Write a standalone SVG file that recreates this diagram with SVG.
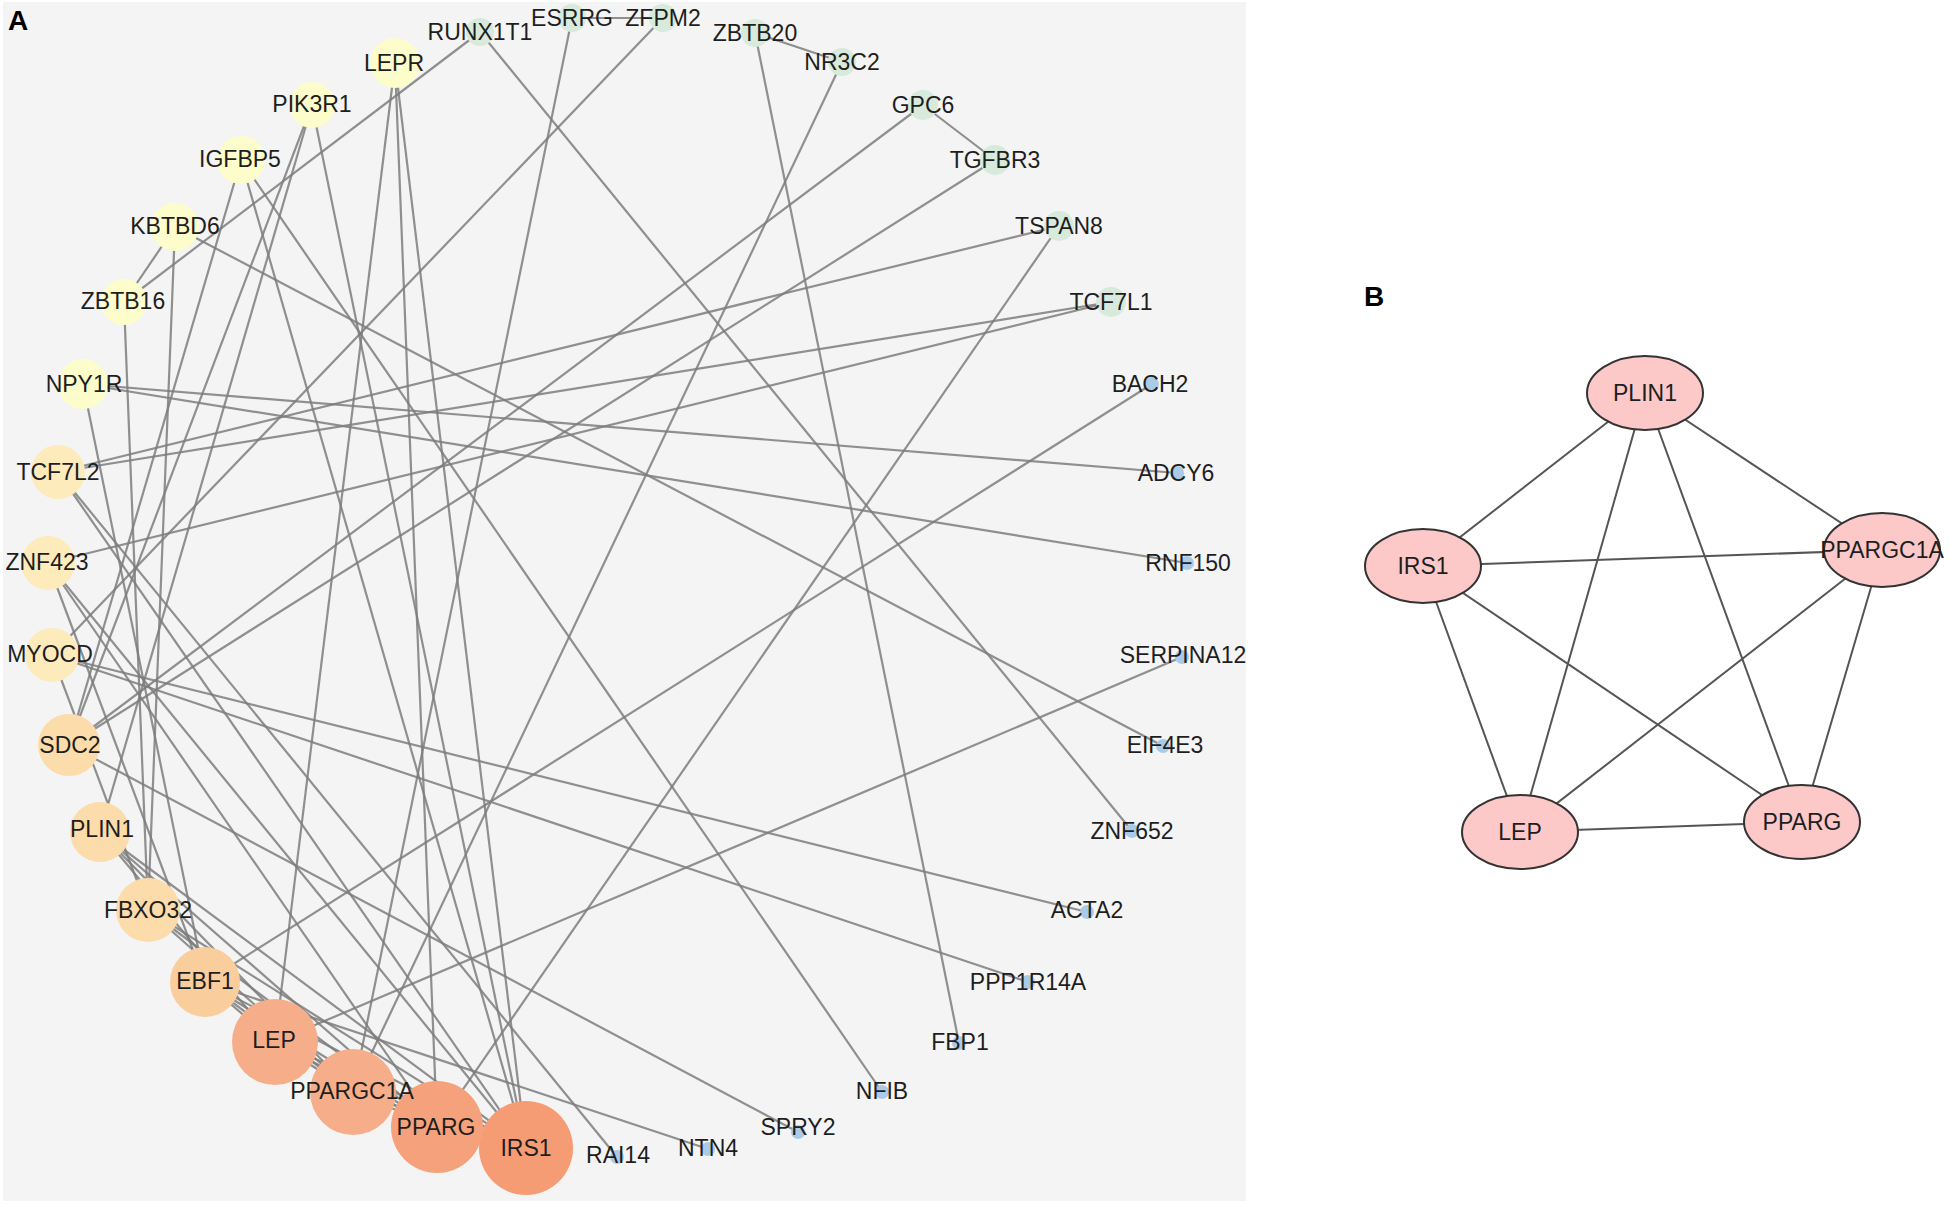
<svg xmlns="http://www.w3.org/2000/svg" width="1950" height="1205" viewBox="0 0 1950 1205">
<style>
text{font-family:"Liberation Sans",Arial,sans-serif;fill:#1e1e1e}
.lbl{font-size:23px;text-anchor:middle}
.panel{font-size:28px;font-weight:bold;fill:#000}
.e line{stroke:#7c7c7c;stroke-width:2.2;stroke-opacity:0.85}
.eb line{stroke:#555;stroke-width:2}
.g{fill:#d7eadb}
.b{fill:#a9cbe8}
.y{fill:#fdfdcb}
.c1{fill:#fdebbb}
.c2{fill:#fcdcaa}
.c3{fill:#facd9d}
.o1{fill:#f6ae8a}
.o2{fill:#f5a17b}
.o3{fill:#f59c74}
.pb{fill:#fcc8c8;stroke:#333;stroke-width:2}
</style>
<rect x="0" y="0" width="1950" height="1205" fill="#ffffff"/>
<rect x="3" y="2" width="1243" height="1199" fill="#f4f4f4"/>
<text class="panel" x="8" y="30">A</text>
<text class="panel" x="1364" y="306">B</text>
<g id="edges-a" class="e">
<line x1="124" y1="302" x2="175" y2="227"/>
<line x1="124" y1="302" x2="480" y2="32"/>
<line x1="124" y1="302" x2="148" y2="910"/>
<line x1="175" y1="227" x2="148" y2="910"/>
<line x1="175" y1="227" x2="1163" y2="746"/>
<line x1="241" y1="160" x2="69" y2="745"/>
<line x1="241" y1="160" x2="882" y2="1092"/>
<line x1="241" y1="160" x2="526" y2="1148"/>
<line x1="312" y1="105" x2="69" y2="745"/>
<line x1="312" y1="105" x2="100" y2="832"/>
<line x1="312" y1="105" x2="526" y2="1148"/>
<line x1="395" y1="63" x2="275" y2="1042"/>
<line x1="395" y1="63" x2="437" y2="1127"/>
<line x1="395" y1="63" x2="526" y2="1148"/>
<line x1="83" y1="384" x2="1177" y2="473"/>
<line x1="83" y1="384" x2="1187" y2="563"/>
<line x1="83" y1="384" x2="205" y2="982"/>
<line x1="480" y1="32" x2="1132" y2="831"/>
<line x1="572" y1="18" x2="663" y2="18"/>
<line x1="572" y1="18" x2="353" y2="1092"/>
<line x1="663" y1="18" x2="52" y2="655"/>
<line x1="755" y1="33" x2="842" y2="62"/>
<line x1="755" y1="33" x2="959" y2="1043"/>
<line x1="842" y1="62" x2="353" y2="1092"/>
<line x1="923" y1="105" x2="995" y2="160"/>
<line x1="923" y1="105" x2="69" y2="745"/>
<line x1="995" y1="160" x2="69" y2="745"/>
<line x1="1059" y1="226" x2="437" y2="1127"/>
<line x1="1059" y1="226" x2="58" y2="472"/>
<line x1="1111" y1="302" x2="58" y2="472"/>
<line x1="1111" y1="302" x2="48" y2="563"/>
<line x1="1152" y1="384" x2="205" y2="982"/>
<line x1="1182" y1="657" x2="275" y2="1042"/>
<line x1="52" y1="655" x2="1087" y2="912"/>
<line x1="52" y1="655" x2="1028" y2="982"/>
<line x1="69" y1="745" x2="798" y2="1132"/>
<line x1="205" y1="982" x2="708" y2="1149"/>
<line x1="58" y1="472" x2="617" y2="1157"/>
<line x1="58" y1="472" x2="526" y2="1148"/>
<line x1="48" y1="563" x2="205" y2="982"/>
<line x1="48" y1="563" x2="437" y2="1127"/>
<line x1="48" y1="563" x2="526" y2="1148"/>
<line x1="52" y1="655" x2="148" y2="910"/>
<line x1="100" y1="832" x2="526" y2="1148"/>
<line x1="100" y1="832" x2="353" y2="1092"/>
<line x1="100" y1="832" x2="275" y2="1042"/>
<line x1="100" y1="832" x2="437" y2="1127"/>
<line x1="526" y1="1148" x2="353" y2="1092"/>
<line x1="526" y1="1148" x2="275" y2="1042"/>
<line x1="526" y1="1148" x2="437" y2="1127"/>
<line x1="353" y1="1092" x2="275" y2="1042"/>
<line x1="353" y1="1092" x2="437" y2="1127"/>
<line x1="275" y1="1042" x2="437" y2="1127"/>
<line x1="205" y1="982" x2="275" y2="1042"/>
<line x1="205" y1="982" x2="353" y2="1092"/>
<line x1="205" y1="982" x2="437" y2="1127"/>
<line x1="205" y1="982" x2="526" y2="1148"/>
<line x1="148" y1="910" x2="353" y2="1092"/>
<line x1="148" y1="910" x2="437" y2="1127"/>
<line x1="148" y1="910" x2="526" y2="1148"/>
</g>
<g id="n-ESRRG"><circle class="g" cx="572" cy="18" r="14"/><text class="lbl" x="572" y="26">ESRRG</text></g>
<g id="n-ZFPM2"><circle class="g" cx="663" cy="18" r="14"/><text class="lbl" x="663" y="26">ZFPM2</text></g>
<g id="n-ZBTB20"><circle class="g" cx="755" cy="33" r="14"/><text class="lbl" x="755" y="41">ZBTB20</text></g>
<g id="n-NR3C2"><circle class="g" cx="842" cy="62" r="14"/><text class="lbl" x="842" y="70">NR3C2</text></g>
<g id="n-GPC6"><circle class="g" cx="923" cy="105" r="15"/><text class="lbl" x="923" y="113">GPC6</text></g>
<g id="n-TGFBR3"><circle class="g" cx="995" cy="160" r="15"/><text class="lbl" x="995" y="168">TGFBR3</text></g>
<g id="n-TSPAN8"><circle class="g" cx="1059" cy="226" r="15"/><text class="lbl" x="1059" y="234">TSPAN8</text></g>
<g id="n-TCF7L1"><circle class="g" cx="1111" cy="302" r="15"/><text class="lbl" x="1111" y="310">TCF7L1</text></g>
<g id="n-BACH2"><circle class="b" cx="1152" cy="384" r="7"/><text class="lbl" x="1150" y="392">BACH2</text></g>
<g id="n-ADCY6"><circle class="b" cx="1177" cy="473" r="7"/><text class="lbl" x="1176" y="481">ADCY6</text></g>
<g id="n-RNF150"><circle class="b" cx="1187" cy="563" r="7"/><text class="lbl" x="1188" y="571">RNF150</text></g>
<g id="n-SERPINA12"><circle class="b" cx="1182" cy="657" r="7"/><text class="lbl" x="1183" y="663">SERPINA12</text></g>
<g id="n-EIF4E3"><circle class="b" cx="1163" cy="746" r="7"/><text class="lbl" x="1165" y="753">EIF4E3</text></g>
<g id="n-ZNF652"><circle class="b" cx="1132" cy="831" r="7"/><text class="lbl" x="1132" y="839">ZNF652</text></g>
<g id="n-ACTA2"><circle class="b" cx="1087" cy="912" r="7"/><text class="lbl" x="1087" y="918">ACTA2</text></g>
<g id="n-PPP1R14A"><circle class="b" cx="1028" cy="982" r="7"/><text class="lbl" x="1028" y="990">PPP1R14A</text></g>
<g id="n-FBP1"><circle class="b" cx="959" cy="1043" r="7"/><text class="lbl" x="960" y="1050">FBP1</text></g>
<g id="n-NFIB"><circle class="b" cx="882" cy="1092" r="7"/><text class="lbl" x="882" y="1099">NFIB</text></g>
<g id="n-SPRY2"><circle class="b" cx="798" cy="1132" r="7"/><text class="lbl" x="798" y="1135">SPRY2</text></g>
<g id="n-NTN4"><circle class="b" cx="708" cy="1149" r="7"/><text class="lbl" x="708" y="1156">NTN4</text></g>
<g id="n-RAI14"><circle class="b" cx="617" cy="1157" r="7"/><text class="lbl" x="618" y="1163">RAI14</text></g>
<g id="n-IRS1"><circle class="o3" cx="526" cy="1148" r="47"/><text class="lbl" x="526" y="1156">IRS1</text></g>
<g id="n-PPARG"><circle class="o2" cx="437" cy="1127" r="46"/><text class="lbl" x="436" y="1135">PPARG</text></g>
<g id="n-PPARGC1A"><circle class="o1" cx="353" cy="1092" r="43"/><text class="lbl" x="352" y="1099">PPARGC1A</text></g>
<g id="n-LEP"><circle class="o1" cx="275" cy="1042" r="43"/><text class="lbl" x="274" y="1048">LEP</text></g>
<g id="n-EBF1"><circle class="c3" cx="205" cy="982" r="35"/><text class="lbl" x="205" y="989">EBF1</text></g>
<g id="n-FBXO32"><circle class="c2" cx="148" cy="910" r="32"/><text class="lbl" x="148" y="918">FBXO32</text></g>
<g id="n-PLIN1"><circle class="c2" cx="100" cy="832" r="30"/><text class="lbl" x="102" y="837">PLIN1</text></g>
<g id="n-SDC2"><circle class="c2" cx="69" cy="745" r="31"/><text class="lbl" x="70" y="753">SDC2</text></g>
<g id="n-MYOCD"><circle class="c1" cx="52" cy="655" r="27"/><text class="lbl" x="50" y="662">MYOCD</text></g>
<g id="n-ZNF423"><circle class="c1" cx="48" cy="563" r="27"/><text class="lbl" x="47" y="570">ZNF423</text></g>
<g id="n-TCF7L2"><circle class="c1" cx="58" cy="472" r="27"/><text class="lbl" x="58" y="480">TCF7L2</text></g>
<g id="n-NPY1R"><circle class="y" cx="83" cy="384" r="25"/><text class="lbl" x="84" y="392">NPY1R</text></g>
<g id="n-ZBTB16"><circle class="y" cx="124" cy="302" r="23"/><text class="lbl" x="123" y="309">ZBTB16</text></g>
<g id="n-KBTBD6"><circle class="y" cx="175" cy="227" r="24"/><text class="lbl" x="175" y="234">KBTBD6</text></g>
<g id="n-IGFBP5"><circle class="y" cx="241" cy="160" r="24"/><text class="lbl" x="240" y="167">IGFBP5</text></g>
<g id="n-PIK3R1"><circle class="y" cx="312" cy="105" r="23"/><text class="lbl" x="312" y="112">PIK3R1</text></g>
<g id="n-LEPR"><circle class="y" cx="395" cy="63" r="25"/><text class="lbl" x="394" y="71">LEPR</text></g>
<g id="n-RUNX1T1"><circle class="g" cx="480" cy="32" r="14"/><text class="lbl" x="480" y="40">RUNX1T1</text></g>
<g id="edges-b" class="eb">
<line x1="1645" y1="393" x2="1423" y2="566"/>
<line x1="1645" y1="393" x2="1882" y2="550"/>
<line x1="1645" y1="393" x2="1520" y2="832"/>
<line x1="1645" y1="393" x2="1802" y2="822"/>
<line x1="1423" y1="566" x2="1882" y2="550"/>
<line x1="1423" y1="566" x2="1520" y2="832"/>
<line x1="1423" y1="566" x2="1802" y2="822"/>
<line x1="1882" y1="550" x2="1520" y2="832"/>
<line x1="1882" y1="550" x2="1802" y2="822"/>
<line x1="1520" y1="832" x2="1802" y2="822"/>
</g>
<g id="b-PLIN1"><ellipse class="pb" cx="1645" cy="393" rx="58" ry="37"/><text class="lbl" x="1645" y="401">PLIN1</text></g>
<g id="b-IRS1"><ellipse class="pb" cx="1423" cy="566" rx="58" ry="37"/><text class="lbl" x="1423" y="574">IRS1</text></g>
<g id="b-PPARGC1A"><ellipse class="pb" cx="1882" cy="550" rx="58" ry="37"/><text class="lbl" x="1882" y="558">PPARGC1A</text></g>
<g id="b-LEP"><ellipse class="pb" cx="1520" cy="832" rx="58" ry="37"/><text class="lbl" x="1520" y="840">LEP</text></g>
<g id="b-PPARG"><ellipse class="pb" cx="1802" cy="822" rx="58" ry="37"/><text class="lbl" x="1802" y="830">PPARG</text></g>
</svg>
